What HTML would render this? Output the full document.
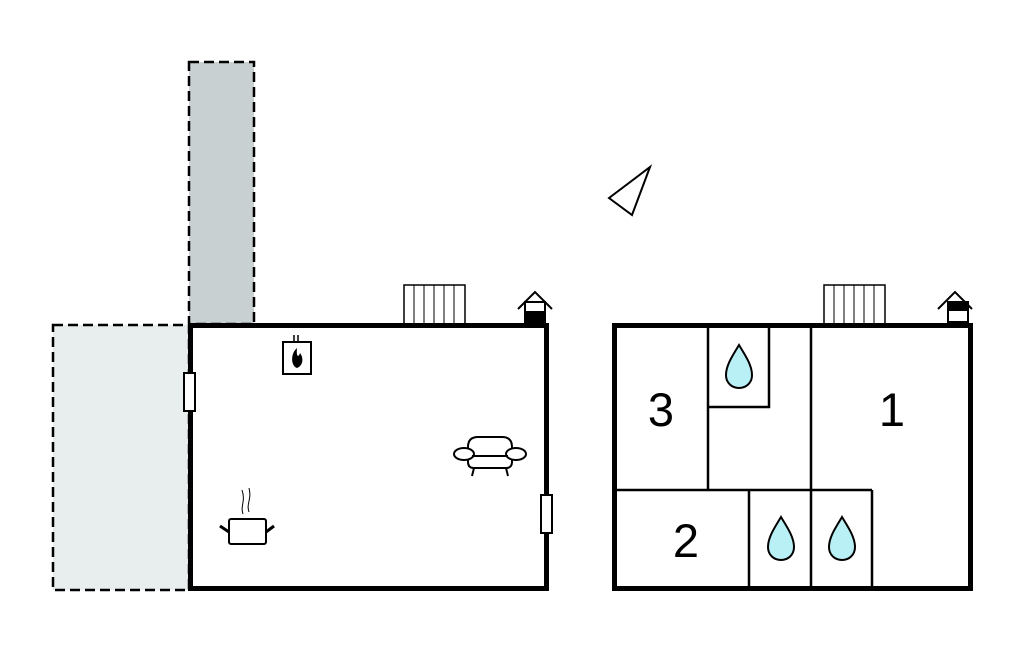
<!DOCTYPE html>
<html><head><style>html,body{margin:0;padding:0;background:#fff;}svg{display:block}</style></head><body>
<svg width="1024" height="652" viewBox="0 0 1024 652" xmlns="http://www.w3.org/2000/svg">
<rect x="189" y="62" width="65" height="262" fill="#c9d0d2" stroke="#000" stroke-width="2.5" stroke-dasharray="10,5"/>
<rect x="53" y="325" width="136" height="265" fill="#e8eded" stroke="#000" stroke-width="2.5" stroke-dasharray="10,5"/>
<polygon points="609,198 650,167 632,215" fill="#fff" stroke="#000" stroke-width="2"/>
<g fill="#fff" stroke="#000" stroke-width="1.5">
<rect x="404" y="285" width="61" height="40"/>
<rect x="824" y="285" width="61" height="40"/>
</g>
<g stroke="#000" stroke-width="1">
<path d="M414 285V325M424 285V325M434 285V325M444 285V325M454 285V325"/>
<path d="M834 285V325M844 285V325M854 285V325M864 285V325M874 285V325"/>
</g>
<g fill="none" stroke="#000" stroke-width="2">
<path d="M518 309 L535 292 L552 309"/>
<rect x="525" y="302" width="20" height="20" fill="#fff"/>
<path d="M938 309 L955 292 L972 309"/>
<rect x="948" y="302" width="20" height="20" fill="#fff"/>
</g>
<rect x="525" y="311" width="20" height="11" fill="#000"/>
<rect x="948" y="302" width="20" height="9" fill="#000"/>
<rect x="190.5" y="325.5" width="356" height="263" fill="#fff" stroke="#000" stroke-width="5"/>
<rect x="184" y="373" width="11" height="38" fill="#fff" stroke="#000" stroke-width="2"/>
<rect x="541" y="495" width="11" height="38" fill="#fff" stroke="#000" stroke-width="2"/>
<rect x="283" y="342" width="28" height="32" fill="#fff" stroke="#000" stroke-width="2"/>
<path d="M294 335V342M298 335V342" stroke="#000" stroke-width="1.5"/>
<path d="M297 348 C290 354 291 366 297 368 C303 366 304 358 300 353 C299 357 296 358 297 348Z" fill="#000"/>
<g fill="#fff" stroke="#000" stroke-width="2">
<path d="M468 462 L468 447 Q468 437 478 437 L502 437 Q512 437 512 447 L512 462 Q512 468 506 468 L474 468 Q468 468 468 462Z"/>
<ellipse cx="464" cy="454" rx="10" ry="6"/>
<ellipse cx="516" cy="454" rx="10" ry="6"/>
<path d="M472 456 L508 456" fill="none"/>
<path d="M474 468 L472 476 M506 468 L508 476" fill="none"/>
</g>
<g fill="none" stroke="#000" stroke-width="2">
<rect x="229" y="519" width="37" height="25" rx="2" fill="#fff"/>
<path d="M220 526 L229 532 M266 532 L274 526" stroke-width="3"/>
<path d="M243 514 C240 505 246 502 242 490 M249 512 C246 503 252 500 249 488" stroke-width="1"/>
</g>
<g stroke="#000" stroke-width="2.5" fill="none">
<path d="M708 325V490M612 490H872M811 325V590M749 490V590M872 490V590M708 407H769V325"/>
</g>
<rect x="614.5" y="325.5" width="356" height="263" fill="none" stroke="#000" stroke-width="5"/>
<g fill="#b8f0f6" stroke="#000" stroke-width="2">
<path d="M739 345 C733 355 726 365 726 375 C726 383 732 388 739 388 C746 388 752 383 752 375 C752 365 745 355 739 345Z"/>
<path d="M781 517 C775 527 768 537 768 547 C768 555 774 560 781 560 C788 560 794 555 794 547 C794 537 787 527 781 517Z"/>
<path d="M842 517 C836 527 829 537 829 547 C829 555 835 560 842 560 C849 560 855 555 855 547 C855 537 848 527 842 517Z"/>
</g>
<g font-family="Liberation Sans, sans-serif" font-size="47" fill="#000" text-anchor="middle">
<text x="661" y="426">3</text>
<text x="892" y="426">1</text>
<text x="686" y="557">2</text>
</g>
</svg>
</body></html>
